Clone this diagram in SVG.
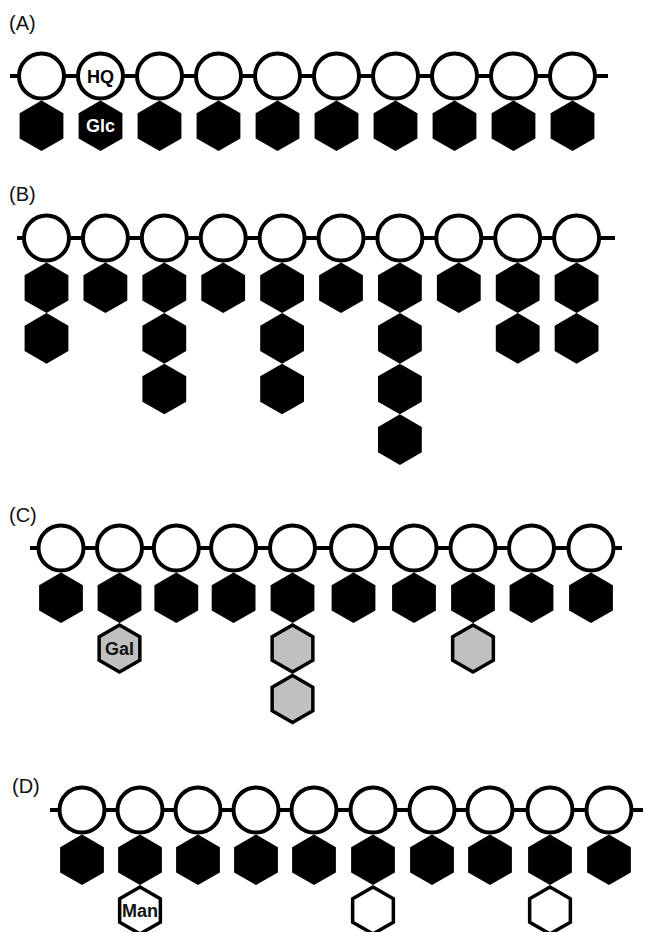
<svg xmlns="http://www.w3.org/2000/svg" xmlns:xlink="http://www.w3.org/1999/xlink" width="646" height="932" viewBox="0 0 646 932">
<style>
.bb{stroke:#000;stroke-width:4;fill:none}
.hq{fill:#fff;stroke:#000;stroke-width:4}
.lbl{font-family:"Liberation Sans",Arial,sans-serif;font-size:20px;fill:#111}
.t{font-family:"Liberation Sans",Arial,sans-serif;font-size:18px;font-weight:bold;text-anchor:middle}
.grey{fill:#c0c0c0;stroke:#000;stroke-width:3.5;stroke-linejoin:miter}
.white{fill:#fff;stroke:#000;stroke-width:3.5;stroke-linejoin:miter}
</style>
<defs>
<path id="hb" d="M0,-25.3 L21.9,-12.65 L21.9,12.65 L0,25.3 L-21.9,12.65 L-21.9,-12.65Z" fill="#000"/>
<path id="ho" d="M0,-23.5 L20.35,-11.75 L20.35,11.75 L0,23.5 L-20.35,11.75 L-20.35,-11.75Z"/>
</defs>
<rect width="646" height="932" fill="#fff"/>
<g id="labels">
<text class="lbl" x="9" y="30">(A)</text>
<text class="lbl" x="9" y="201">(B)</text>
<text class="lbl" x="9" y="522">(C)</text>
<text class="lbl" x="12" y="793">(D)</text>
</g>
<g id="connectors">
<line class="bb" x1="10" y1="76" x2="608" y2="76"/>
<line class="bb" x1="17" y1="238" x2="615" y2="238"/>
<line class="bb" x1="30" y1="548" x2="622" y2="548"/>
<line class="bb" x1="50" y1="810" x2="643" y2="810"/>
</g>
<!-- Row A -->
<g id="rowA">
<g id="A1"><circle class="hq" cx="41.5" cy="76" r="22.5"/><use href="#hb" x="41.5" y="125.8"/></g>
<g id="A2"><circle class="hq" cx="100.5" cy="76" r="22.5"/><text class="t" x="100.5" y="82.5">HQ</text><use href="#hb" x="100.5" y="125.8"/><text class="t" x="100.5" y="132.3" fill="#fff">Glc</text></g>
<g id="A3"><circle class="hq" cx="159.5" cy="76" r="22.5"/><use href="#hb" x="159.5" y="125.8"/></g>
<g id="A4"><circle class="hq" cx="218.5" cy="76" r="22.5"/><use href="#hb" x="218.5" y="125.8"/></g>
<g id="A5"><circle class="hq" cx="277.5" cy="76" r="22.5"/><use href="#hb" x="277.5" y="125.8"/></g>
<g id="A6"><circle class="hq" cx="336.5" cy="76" r="22.5"/><use href="#hb" x="336.5" y="125.8"/></g>
<g id="A7"><circle class="hq" cx="395.5" cy="76" r="22.5"/><use href="#hb" x="395.5" y="125.8"/></g>
<g id="A8"><circle class="hq" cx="454.5" cy="76" r="22.5"/><use href="#hb" x="454.5" y="125.8"/></g>
<g id="A9"><circle class="hq" cx="513.5" cy="76" r="22.5"/><use href="#hb" x="513.5" y="125.8"/></g>
<g id="A10"><circle class="hq" cx="572.5" cy="76" r="22.5"/><use href="#hb" x="572.5" y="125.8"/></g>
</g>
<!-- Row B -->
<g id="rowB">
<g id="B1"><circle class="hq" cx="46.5" cy="238" r="22.5"/><use href="#hb" x="46.5" y="287.8"/><use href="#hb" x="46.5" y="338.4"/></g>
<g id="B2"><circle class="hq" cx="105.4" cy="238" r="22.5"/><use href="#hb" x="105.4" y="287.8"/></g>
<g id="B3"><circle class="hq" cx="164.3" cy="238" r="22.5"/><use href="#hb" x="164.3" y="287.8"/><use href="#hb" x="164.3" y="338.4"/><use href="#hb" x="164.3" y="389"/></g>
<g id="B4"><circle class="hq" cx="223.2" cy="238" r="22.5"/><use href="#hb" x="223.2" y="287.8"/></g>
<g id="B5"><circle class="hq" cx="282.1" cy="238" r="22.5"/><use href="#hb" x="282.1" y="287.8"/><use href="#hb" x="282.1" y="338.4"/><use href="#hb" x="282.1" y="389"/></g>
<g id="B6"><circle class="hq" cx="341" cy="238" r="22.5"/><use href="#hb" x="341" y="287.8"/></g>
<g id="B7"><circle class="hq" cx="399.9" cy="238" r="22.5"/><use href="#hb" x="399.9" y="287.8"/><use href="#hb" x="399.9" y="338.4"/><use href="#hb" x="399.9" y="389"/><use href="#hb" x="399.9" y="439.6"/></g>
<g id="B8"><circle class="hq" cx="458.8" cy="238" r="22.5"/><use href="#hb" x="458.8" y="287.8"/></g>
<g id="B9"><circle class="hq" cx="517.7" cy="238" r="22.5"/><use href="#hb" x="517.7" y="287.8"/><use href="#hb" x="517.7" y="338.4"/></g>
<g id="B10"><circle class="hq" cx="576.6" cy="238" r="22.5"/><use href="#hb" x="576.6" y="287.8"/><use href="#hb" x="576.6" y="338.4"/></g>
</g>
<!-- Row C -->
<g id="rowC">
<g id="C1"><circle class="hq" cx="61" cy="548" r="22.5"/><use href="#hb" x="61" y="597.8"/></g>
<g id="C2"><circle class="hq" cx="119.5" cy="548" r="22.5"/><use href="#hb" x="119.5" y="597.8"/><use href="#ho" class="grey" x="119.5" y="648.4"/><text class="t" x="119.5" y="654.8" fill="#111">Gal</text></g>
<g id="C3"><circle class="hq" cx="176.3" cy="548" r="22.5"/><use href="#hb" x="176.3" y="597.8"/></g>
<g id="C4"><circle class="hq" cx="233.6" cy="548" r="22.5"/><use href="#hb" x="233.6" y="597.8"/></g>
<g id="C5"><circle class="hq" cx="292.5" cy="548" r="22.5"/><use href="#hb" x="292.5" y="597.8"/><use href="#ho" class="grey" x="292.5" y="648.4"/><use href="#ho" class="grey" x="292.5" y="699"/></g>
<g id="C6"><circle class="hq" cx="353.5" cy="548" r="22.5"/><use href="#hb" x="353.5" y="597.8"/></g>
<g id="C7"><circle class="hq" cx="414" cy="548" r="22.5"/><use href="#hb" x="414" y="597.8"/></g>
<g id="C8"><circle class="hq" cx="473" cy="548" r="22.5"/><use href="#hb" x="473" y="597.8"/><use href="#ho" class="grey" x="473" y="648.4"/></g>
<g id="C9"><circle class="hq" cx="531.5" cy="548" r="22.5"/><use href="#hb" x="531.5" y="597.8"/></g>
<g id="C10"><circle class="hq" cx="591" cy="548" r="22.5"/><use href="#hb" x="591" y="597.8"/></g>
</g>
<!-- Row D -->
<g id="rowD">
<g id="D1"><circle class="hq" cx="82" cy="810" r="22.5"/><use href="#hb" x="82" y="859.8"/></g>
<g id="D2"><circle class="hq" cx="140" cy="810" r="22.5"/><use href="#hb" x="140" y="859.8"/><use href="#ho" class="white" x="140" y="910.4"/><text class="t" x="140" y="916.8" fill="#111">Man</text></g>
<g id="D3"><circle class="hq" cx="198" cy="810" r="22.5"/><use href="#hb" x="198" y="859.8"/></g>
<g id="D4"><circle class="hq" cx="256" cy="810" r="22.5"/><use href="#hb" x="256" y="859.8"/></g>
<g id="D5"><circle class="hq" cx="314" cy="810" r="22.5"/><use href="#hb" x="314" y="859.8"/></g>
<g id="D6"><circle class="hq" cx="373" cy="810" r="22.5"/><use href="#hb" x="373" y="859.8"/><use href="#ho" class="white" x="373" y="910.4"/></g>
<g id="D7"><circle class="hq" cx="432" cy="810" r="22.5"/><use href="#hb" x="432" y="859.8"/></g>
<g id="D8"><circle class="hq" cx="490" cy="810" r="22.5"/><use href="#hb" x="490" y="859.8"/></g>
<g id="D9"><circle class="hq" cx="550" cy="810" r="22.5"/><use href="#hb" x="550" y="859.8"/><use href="#ho" class="white" x="550" y="910.4"/></g>
<g id="D10"><circle class="hq" cx="609" cy="810" r="22.5"/><use href="#hb" x="609" y="859.8"/></g>
</g>
</svg>
